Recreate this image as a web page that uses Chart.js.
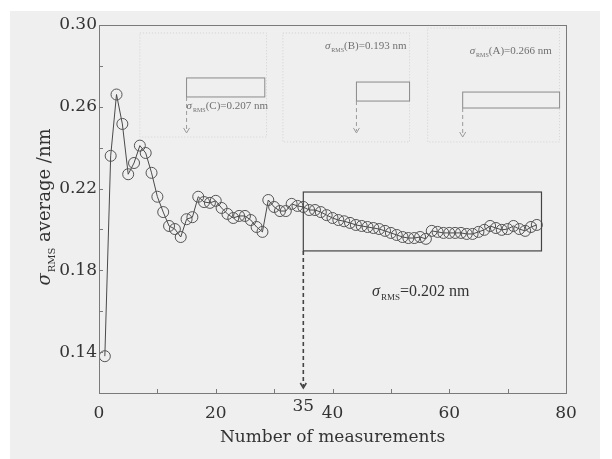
<!DOCTYPE html>
<html>
<head>
<meta charset="utf-8">
<script src="https://cdn.jsdelivr.net/npm/chart.js@4.4.0/dist/chart.umd.min.js"></script>
<style>
  body { margin: 0; background: #fff; }
  canvas { display: block; }
</style>
</head>
<body>
<canvas id="myChart" width="612" height="459"></canvas>
<script>
// data
const measurements = [
  1, 2, 3, 4, 5, 6, 7, 8, 9, 10, 11, 12, 13, 14, 15, 16, 17, 18, 19, 20,
  21, 22, 23, 24, 25, 26, 27, 28, 29, 30, 31, 32, 33, 34, 35, 36, 37, 38, 39, 40,
  41, 42, 43, 44, 45, 46, 47, 48, 49, 50, 51, 52, 53, 54, 55, 56, 57, 58, 59, 60,
  61, 62, 63, 64, 65, 66, 67, 68, 69, 70, 71, 72, 73, 74, 75,
];
const rmsAverage = [
  0.138, 0.236, 0.266, 0.2516, 0.227, 0.2325, 0.241, 0.2374, 0.2277, 0.216,
  0.2085, 0.2017, 0.2002, 0.1963, 0.205, 0.206, 0.216, 0.2134, 0.213, 0.214,
  0.2105, 0.2076, 0.2056, 0.2066, 0.2066, 0.2046, 0.2012, 0.1988, 0.2144, 0.211,
  0.209, 0.209, 0.2125, 0.2115, 0.211, 0.2095, 0.2095, 0.2085, 0.207, 0.2056,
  0.2046, 0.204, 0.2032, 0.2022, 0.2017, 0.2012, 0.2007, 0.2002, 0.1993, 0.1983,
  0.1973, 0.1963, 0.1958, 0.1958, 0.1963, 0.1954, 0.1993, 0.1988, 0.1983, 0.1983,
  0.1983, 0.1983, 0.1978, 0.1978, 0.1988, 0.1998, 0.2017, 0.2007, 0.1998, 0.2002,
  0.2017, 0.2002, 0.1993, 0.2012, 0.2022,
];
const xTickLabels = [0, 20, 40, 60, 80];
const yTickLabels = [0.14, 0.18, 0.22, 0.26, 0.30];
const markedMeasurement = 35;
const finalRms = "0.202";
const insetNames = ["C", "B", "A"];
const insetRms = ["0.207", "0.193", "0.266"];

// annotation regions, in data units
const zoomBox = { x0: 35, x1: 75.8, y0: 0.1895, y1: 0.2183 };
const insetBoxes = [
  { x0: 15.0, x1: 28.4, y0: 0.2648, y1: 0.2741, arrowTo: 0.2472, frame: [7.0, 28.7, 0.2452, 0.2961] },
  { x0: 44.1, x1: 53.2, y0: 0.2628, y1: 0.2721, arrowTo: 0.2472, frame: [31.5, 53.2, 0.2428, 0.2961] },
  { x0: 62.3, x1: 78.9, y0: 0.2594, y1: 0.2672, arrowTo: 0.2452, frame: [56.3, 78.9, 0.2428, 0.2985] },
];
const insetTextPos = [
  { x: 15.0, y: 0.2608 },
  { x: 38.7, y: 0.2902 },
  { x: 63.5, y: 0.2878 },
];

const SERIF = "'DejaVu Serif', 'Liberation Serif', serif";
const TIMES = "'Liberation Serif', serif";
const INK = "#333";

function sigmaText(ctx, x, y, suffix, size, color, family) {
  family = family || SERIF;
  ctx.save();
  ctx.fillStyle = color;
  ctx.textBaseline = "alphabetic";
  ctx.textAlign = "left";
  ctx.font = "italic " + size + "px " + family;
  ctx.fillText("σ", x, y);
  let w = ctx.measureText("σ").width + 1;
  ctx.font = Math.round(size * 0.58) + "px " + family;
  ctx.fillText("RMS", x + w, y + size * 0.28);
  w += ctx.measureText("RMS").width;
  ctx.font = size + "px " + family;
  ctx.fillText(suffix, x + w, y);
  w += ctx.measureText(suffix).width;
  ctx.restore();
  return w;
}

function sigmaWidth(ctx, suffix, size, family) {
  family = family || SERIF;
  ctx.save();
  ctx.font = "italic " + size + "px " + family;
  let w = ctx.measureText("σ").width + 1;
  ctx.font = Math.round(size * 0.58) + "px " + family;
  w += ctx.measureText("RMS").width;
  ctx.font = size + "px " + family;
  w += ctx.measureText(suffix).width;
  ctx.restore();
  return w;
}

function dashedArrow(ctx, px, yTop, yTip, color, width) {
  ctx.save();
  ctx.strokeStyle = color;
  ctx.lineWidth = width;
  ctx.setLineDash([4, 3]);
  ctx.beginPath();
  ctx.moveTo(px, yTop);
  ctx.lineTo(px, yTip - 2);
  ctx.stroke();
  ctx.setLineDash([]);
  ctx.beginPath();
  ctx.moveTo(px - 3, yTip - 5);
  ctx.lineTo(px, yTip);
  ctx.lineTo(px + 3, yTip - 5);
  ctx.stroke();
  ctx.restore();
}

const backdrop = {
  id: "backdrop",
  beforeDraw(chart) {
    const c = chart.ctx;
    c.save();
    c.fillStyle = "#ffffff";
    c.fillRect(0, 0, chart.width, chart.height);
    c.fillStyle = "#efefef";
    c.fillRect(10, 11, 590, 448);
    c.restore();
  },
};

const insets = {
  id: "insets",
  beforeDatasetsDraw(chart) {
    const c = chart.ctx;
    const xs = chart.scales.x;
    const ys = chart.scales.y;
    c.save();
    insetBoxes.forEach((b, i) => {
      const f = b.frame;
      c.strokeStyle = "#d2d2d2";
      c.lineWidth = 1;
      c.setLineDash([1, 2]);
      c.strokeRect(xs.getPixelForValue(f[0]), ys.getPixelForValue(f[3]),
        xs.getPixelForValue(f[1]) - xs.getPixelForValue(f[0]),
        ys.getPixelForValue(f[2]) - ys.getPixelForValue(f[3]));
      c.setLineDash([]);
      const l = xs.getPixelForValue(b.x0), r = xs.getPixelForValue(b.x1);
      const t = ys.getPixelForValue(b.y1), btm = ys.getPixelForValue(b.y0);
      c.strokeStyle = "#8a8a8a";
      c.strokeRect(l, t, r - l, btm - t);
      dashedArrow(c, l, btm, ys.getPixelForValue(b.arrowTo), "#9a9a9a", 1);
      const tp = insetTextPos[i];
      const tx = xs.getPixelForValue(tp.x);
      const ty = ys.getPixelForValue(tp.y);
      sigmaText(c, tx, ty + 4, "(" + insetNames[i] + ")=" + insetRms[i] + " nm", 11, "#707070", TIMES);
    });
    c.restore();
  },
};

const frame = {
  id: "frame",
  afterDatasetsDraw(chart) {
    const c = chart.ctx;
    const a = chart.chartArea;
    const xs = chart.scales.x;
    const ys = chart.scales.y;
    c.save();
    // plot frame
    c.strokeStyle = "#7a7a7a";
    c.lineWidth = 1;
    c.strokeRect(a.left + 0.5, a.top + 0.5, a.right - a.left, a.bottom - a.top);
    // inward ticks
    c.beginPath();
    for (let v = 10; v < 80; v += 10) {
      const px = Math.round(xs.getPixelForValue(v)) + 0.5;
      c.moveTo(px, a.bottom);
      c.lineTo(px, a.bottom - 4);
    }
    for (let k = 7; k < 15; k++) {
      const py = Math.round(ys.getPixelForValue(k / 50)) + 0.5;
      c.moveTo(a.left, py);
      c.lineTo(a.left + 4, py);
    }
    c.stroke();

    // zoom box and arrow to measurement 35
    const l = xs.getPixelForValue(zoomBox.x0), r = xs.getPixelForValue(zoomBox.x1);
    const t = ys.getPixelForValue(zoomBox.y1), b = ys.getPixelForValue(zoomBox.y0);
    c.strokeStyle = "#444";
    c.lineWidth = 1.2;
    c.strokeRect(l, t, r - l, b - t);
    const mx = xs.getPixelForValue(markedMeasurement);
    dashedArrow(c, mx, b, a.bottom - 5, "#444", 1.6);

    // "35" label
    c.fillStyle = INK;
    c.font = "17px " + SERIF;
    c.textAlign = "center";
    c.textBaseline = "middle";
    c.fillText(String(markedMeasurement), mx, a.bottom + 14);

    // final value label
    sigmaText(c, 372, 296, "=" + finalRms + " nm", 16, INK, TIMES);

    // axis titles
    c.fillStyle = INK;
    c.font = "17px " + SERIF;
    c.textAlign = "center";
    c.textBaseline = "middle";
    c.fillText("Number of measurements", (a.left + a.right) / 2, 438);

    c.translate(44, 207);
    c.rotate(-Math.PI / 2);
    const w = sigmaWidth(c, " average /nm", 18);
    sigmaText(c, -w / 2, 6, " average /nm", 18, INK);
    c.restore();
  },
};

const ctx = document.getElementById("myChart").getContext("2d");

const myChart = new Chart(ctx, {
  type: "scatter",
  data: {
    datasets: [
      {
        label: "σRMS average",
        data: measurements.map((m, i) => ({ x: m, y: rmsAverage[i] })),
        showLine: true,
        borderColor: "#4a4a4a",
        borderWidth: 1,
        pointRadius: 5.5,
        pointBorderColor: "#555",
        pointBackgroundColor: "rgba(0,0,0,0)",
        pointBorderWidth: 1,
      },
    ],
  },
  options: {
    responsive: false,
    animation: false,
    devicePixelRatio: 1,
    layout: { padding: { top: 25, right: 46, left: 0, bottom: 0 } },
    plugins: { legend: { display: false }, tooltip: { enabled: false } },
    scales: {
      x: {
        type: "linear",
        min: 0,
        max: 80,
        grid: { display: false, drawTicks: false, tickLength: 0 },
        border: { display: false },
        afterFit: (s) => { s.height = 66; },
        ticks: {
          stepSize: 10,
          padding: 10,
          color: INK,
          font: { family: SERIF, size: 17 },
          maxRotation: 0,
          autoSkip: false,
          callback: (v) => (xTickLabels.includes(v) ? String(v) : ""),
        },
      },
      y: {
        min: 0.12,
        max: 0.3,
        grid: { display: false, drawTicks: false, tickLength: 0 },
        border: { display: false },
        afterFit: (s) => { s.width = 99; },
        ticks: {
          stepSize: 0.02,
          padding: 2,
          color: INK,
          font: { family: SERIF, size: 17 },
          autoSkip: false,
          callback: (v) =>
            yTickLabels.some((t) => Math.abs(t - v) < 1e-6) ? v.toFixed(2) : "",
        },
      },
    },
  },
  plugins: [backdrop, insets, frame],
});
</script>
</body>
</html>
